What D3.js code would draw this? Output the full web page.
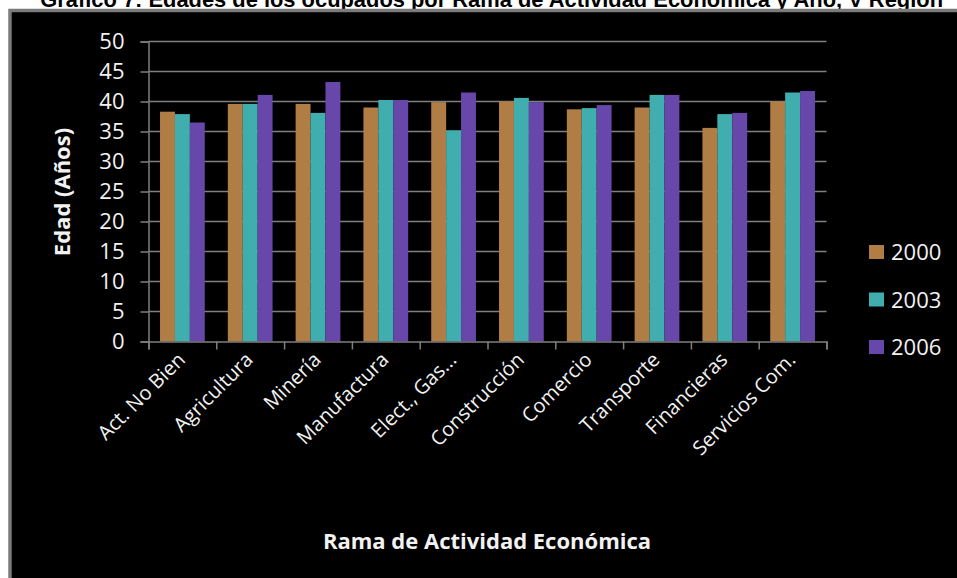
<!DOCTYPE html>
<html><head><meta charset="utf-8">
<script src="https://cdn.jsdelivr.net/npm/d3@7"></script>
<style>
html,body{margin:0;padding:0;background:#fff;}
svg{display:block;}
</style></head>
<body>
<svg id="chart" width="957" height="578"></svg>
<script>
const title = "Gráfico 7: Edades de los ocupados por Rama de Actividad Económica y Año, V Región";
const categories = ["Act. No Bien","Agricultura","Minería","Manufactura","Elect., Gas...","Construcción","Comercio","Transporte","Financieras","Servicios Com."];
const seriesNames = ["2000","2003","2006"];
const values2000 = [38.3, 39.6, 39.6, 39.0, 39.9, 40.0, 38.7, 39.0, 35.6, 40.0];
const values2003 = [37.9, 39.6, 38.1, 40.25, 35.2, 40.6, 38.9, 41.1, 37.9, 41.5];
const values2006 = [36.5, 41.1, 43.25, 40.25, 41.5, 39.9, 39.4, 41.1, 38.1, 41.75];
const yTicks = [0,5,10,15,20,25,30,35,40,45,50];
const colors = ["#b07e45","#40aeaf","#6747aa"];
const yLabel = "Edad (Años)";
const xLabel = "Rama de Actividad Económica";

const series = [values2000, values2003, values2006];
const svg = d3.select("#chart");
const font = "'Open Sans', 'Noto Sans', sans-serif";

// Title (cut at top, as in the source image)
const t = svg.append("text").attr("x", 943).attr("y", 7).attr("text-anchor","end")
  .attr("font-family","'Liberation Sans', Arial, sans-serif").attr("font-weight","bold")
  .attr("font-size", 20).attr("fill","#000").text(title);
const tl = t.node().getComputedTextLength();
t.attr("font-size", 20 * 903 / tl);

// Black panel with gray border
svg.append("rect").attr("x", 10).attr("y", 10.5).attr("width", 957).attr("height", 578)
  .attr("fill","#000").attr("stroke","#7a7a7a").attr("stroke-width",3.5);

const x0 = d3.scaleBand().domain(categories).range([148.5, 826.5]).paddingInner(0.34).paddingOuter(0.17);
const x1 = d3.scaleBand().domain(seriesNames).range([0, x0.bandwidth()]);
const y = d3.scaleLinear().domain([0,50]).range([341.5, 41.5]);

// gridlines
svg.append("g").selectAll("line").data(yTicks.filter(d=>d>0)).join("line")
  .attr("x1",148.5).attr("x2",826.5).attr("y1",d=>y(d)).attr("y2",d=>y(d))
  .attr("stroke","#7f7f7f").attr("stroke-width",1.5);

// bars
const g = svg.append("g");
series.forEach((vals, si) => {
  g.selectAll(null).data(vals).join("rect")
    .attr("x", (d,i) => x0(categories[i]) + x1(seriesNames[si]))
    .attr("width", x1.bandwidth())
    .attr("y", d => y(d))
    .attr("height", d => y(0) - y(d))
    .attr("fill", colors[si]);
});

// Y axis
const yAxis = svg.append("g").attr("transform","translate(148.5,0)")
  .call(d3.axisLeft(y).tickValues(yTicks).tickSize(8).tickPadding(16));
yAxis.select(".domain").attr("stroke","#7f7f7f").attr("stroke-width",1.5);
yAxis.selectAll(".tick line").attr("stroke","#7f7f7f").attr("stroke-width",1.5);
yAxis.selectAll(".tick text").attr("fill","#f2f2f2").attr("font-family",font).attr("font-size",22);

// X axis with ticks at band boundaries
const xb = d3.scaleLinear().domain([0, categories.length]).range([148.5, 826.5]);
const xAxis = svg.append("g").attr("transform","translate(0,341.5)")
  .call(d3.axisBottom(xb).tickValues(d3.range(categories.length+1)).tickSize(8).tickFormat(""));
xAxis.select(".domain").attr("stroke","#7f7f7f").attr("stroke-width",1.5);
xAxis.selectAll(".tick line").attr("stroke","#7f7f7f").attr("stroke-width",1.5);

// X category labels rotated
svg.append("g").selectAll("text").data(categories).join("text")
  .attr("transform", d => `translate(${x0(d)+x0.bandwidth()/2+4},${361}) rotate(-45)`)
  .attr("text-anchor","end").attr("fill","#f2f2f2").attr("font-family",font).attr("font-size",20)
  .text(d=>d);

// Axis titles
svg.append("text").attr("transform","translate(70,192) rotate(-90)").attr("text-anchor","middle")
  .attr("fill","#f2f2f2").attr("font-family",font).attr("font-weight","bold").attr("font-size",22).text(yLabel);
svg.append("text").attr("x",487).attr("y",549).attr("text-anchor","middle")
  .attr("fill","#f2f2f2").attr("font-family",font).attr("font-weight","bold").attr("font-size",22).text(xLabel);

// Legend
const lg = svg.append("g");
seriesNames.forEach((s, i) => {
  const cy = 252 + i*47.5;
  lg.append("rect").attr("x",869).attr("y",cy-7).attr("width",15).attr("height",14).attr("fill",colors[i]);
  lg.append("text").attr("x",891).attr("y",cy+8).attr("fill","#f2f2f2").attr("font-family",font).attr("font-size",22).text(s);
});
</script>
</body></html>
